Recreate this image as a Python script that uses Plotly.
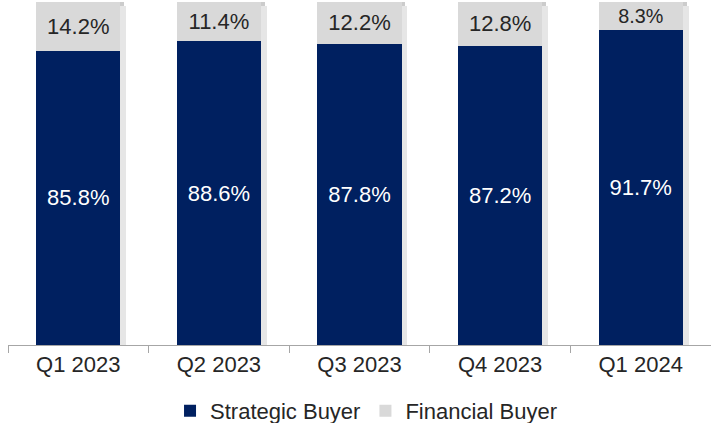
import plotly.graph_objects as go

quarters = ["Q1 2023", "Q2 2023", "Q3 2023", "Q4 2023", "Q1 2024"]
strategic = [85.8, 88.6, 87.8, 87.2, 91.7]
financial = [14.2, 11.4, 12.2, 12.8, 8.3]
totals = [s + f for s, f in zip(strategic, financial)]

navy = "#002060"
gray = "#D9D9D9"
font = "Liberation Sans, Arial, sans-serif"

fig = go.Figure()
# soft drop shadow behind bars (on base axis x)
for off, col in [(0.04, "#E6E6E6"), (0.026, "#CCCCCC"), (0.013, "#AFAFAF")]:
    fig.add_trace(go.Bar(
        x=quarters, y=[t - 1.2 for t in totals], xaxis="x", yaxis="y",
        width=0.6, offset=-0.3 + off, showlegend=False, hoverinfo="skip",
        marker=dict(color=col, line=dict(width=0)),
    ))

fig.add_trace(go.Bar(
    x=quarters, y=strategic, name="Strategic Buyer", xaxis="x2", yaxis="y",
    marker=dict(color=navy, line=dict(width=0)),
    text=[f"{v:.1f}%" for v in strategic], textposition="inside",
    insidetextanchor="middle", textangle=0,
    textfont=dict(color="white", size=22, family=font),
))
fig.add_trace(go.Bar(
    x=quarters, y=financial, name="Financial Buyer", xaxis="x2", yaxis="y",
    marker=dict(color=gray, line=dict(width=0)),
    text=[f"{v:.1f}%" for v in financial], textposition="inside",
    insidetextanchor="middle", textangle=0,
    textfont=dict(color="#262626", size=22, family=font),
))

fig.update_layout(
    barmode="stack", bargap=0.4,
    width=711, height=423,
    margin=dict(l=8, r=0, t=2, b=78, autoexpand=False),
    plot_bgcolor="white", paper_bgcolor="white",
    font=dict(family=font, size=22, color="#262626"),
    showlegend=True,
    legend=dict(orientation="h", x=0.51, xanchor="center", y=-0.192, yanchor="middle",
                font=dict(size=22, color="#262626"), itemsizing="constant",
                traceorder="normal", itemwidth=30, tracegroupgap=0),
    uniformtext=dict(mode=False),
    xaxis=dict(
        showline=True, linecolor="#A6A6A6", linewidth=1,
        ticks="outside", tickson="boundaries", ticklen=7, tickcolor="#A6A6A6",
        tickfont=dict(size=22, color="#262626"), showgrid=False,
        range=[-0.5, 4.5],
    ),
    xaxis2=dict(overlaying="x", matches="x", visible=False, range=[-0.5, 4.5]),
    yaxis=dict(range=[0, 100], visible=False, showgrid=False),
)

fig.write_html(
    "out.html",
    config={"displayModeBar": False},
    post_script="document.body.style.margin='0';document.body.style.overflow='hidden';",
)
